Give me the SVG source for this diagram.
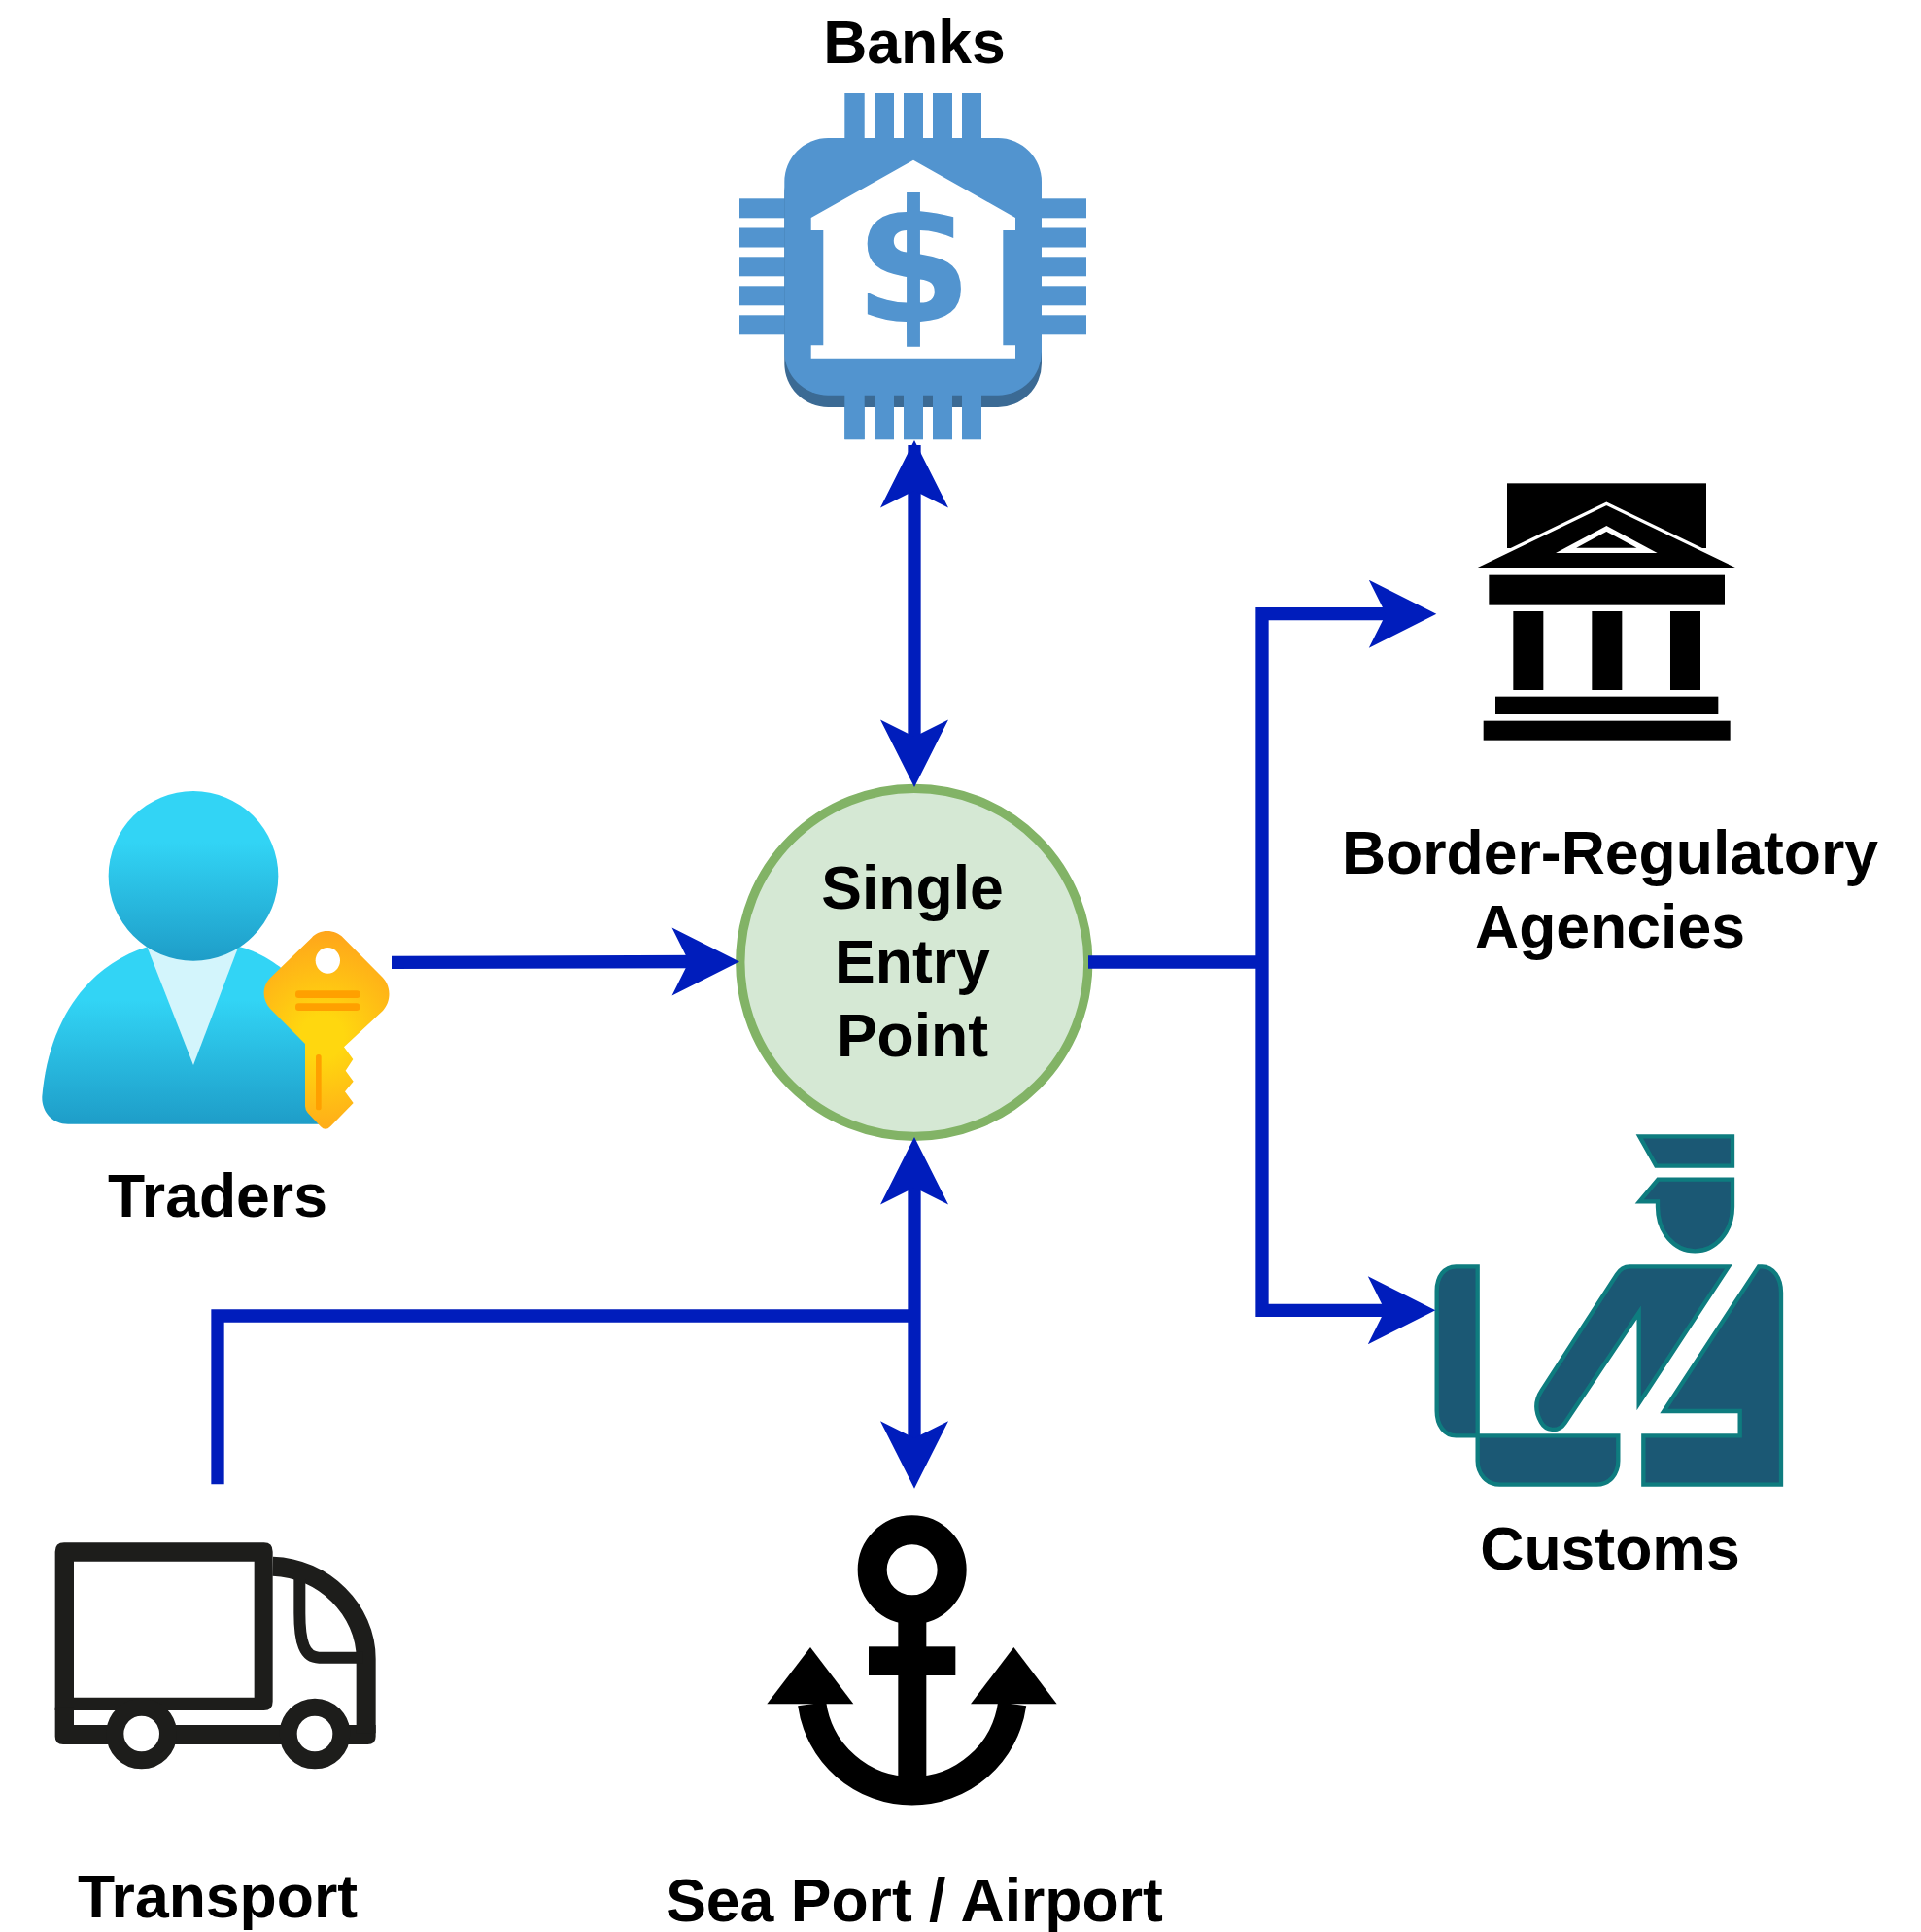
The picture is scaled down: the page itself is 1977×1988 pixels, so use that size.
<svg xmlns="http://www.w3.org/2000/svg" width="1977" height="1988" viewBox="0 0 1977 1988">
<style>
.t{font-family:"Liberation Sans",Arial,sans-serif;font-weight:700;font-size:62.500px;fill:#000;text-anchor:middle}
.c{fill:none;stroke:#001DBC;stroke-width:13.300}
.a{fill:#001DBC}
.b{fill:#5294CF}
.u{fill:#1B5874;stroke:#0E7C7F;stroke-width:13}
.k{fill:#000}
.v{fill:#1D1D1B}
.w{fill:none;stroke:#1D1D1B}
.o{fill:#FFA000}
</style>
<defs>
<linearGradient id="g1" x1="0" y1="0" x2="0" y2="1"><stop offset="0.3" stop-color="#32D4F5"/><stop offset="1" stop-color="#1E9DC8"/></linearGradient>
<radialGradient id="g2" gradientUnits="userSpaceOnUse" cx="905" cy="830" r="330"><stop offset="0.2" stop-color="#FFD70F"/><stop offset="1" stop-color="#FFA41B"/></radialGradient>
<path id="h" d="M0 0L35 69.500L0 52L-35 69.500Z"/>
</defs>
<rect width="1977" height="1988" fill="#fff"/>
<g id="banks">
<text class="t" x="941" y="65">Banks</text>
<g class="b">
<rect x="869.300" y="96" width="20.400" height="356"/><rect x="900" y="96" width="20" height="356"/><rect x="930" y="96" width="20" height="356"/><rect x="960" y="96" width="20" height="356"/><rect x="990" y="96" width="20" height="356"/>
<rect x="761" y="204.300" width="357" height="20"/><rect x="761" y="234.500" width="357" height="20"/><rect x="761" y="264.300" width="357" height="20"/><rect x="761" y="294.300" width="357" height="20"/><rect x="761" y="324.300" width="357" height="20"/>
</g>
<rect x="807.300" y="155" width="264.700" height="264" rx="45" fill="#3B6A94"/>
<g class="b">
<rect x="807.300" y="142" width="264.700" height="264.700" rx="45"/>
<rect x="869.300" y="400" width="20.400" height="52.300"/><rect x="900" y="400" width="20" height="52.300"/><rect x="930" y="400" width="20" height="52.300"/><rect x="960" y="400" width="20" height="52.300"/><rect x="990" y="400" width="20" height="52.300"/>
</g>
<path fill="#fff" d="M940 164.700L1045 224V237H1032.300V355.300H1045V368.700H834.700V355.300H847.300V237H834.700V224Z"/>
<text x="940" y="331" font-family="DejaVu Sans,sans-serif" font-weight="700" font-size="175" text-anchor="middle" fill="#5294CF">$</text>
</g>
<g id="border-regulatory">
<g transform="translate(1500 480) scale(.33333)">
<rect class="k" x="153" y="52" width="615" height="200"/>
<path class="k" stroke="#fff" stroke-width="10" stroke-miterlimit="12" d="M40 317L460 115L880 317Z"/>
<path class="k" stroke="#fff" stroke-width="16" stroke-miterlimit="12" d="M460 192L335 259H585Z"/>
<rect class="k" x="97" y="335" width="728" height="93"/>
<rect class="k" x="172" y="447" width="93" height="243"/><rect class="k" x="415" y="447" width="93" height="243"/><rect class="k" x="657" y="447" width="93" height="243"/>
<rect class="k" x="117" y="710" width="688" height="55"/><rect class="k" x="80" y="785" width="762" height="60"/>
</g>
<text class="t" x="1657" y="899">Border-Regulatory</text>
<text class="t" x="1657" y="975">Agencies</text>
</g>
<g id="customs">
<g transform="translate(1460 1140) scale(.33333)">
<path class="u" d="M682 88H969V179H733Z"/>
<path class="u" d="M739 221H969V305C969 385 915 442 853 442C790 442 738 385 738 305V289H682Z"/>
<path class="u" d="M182 490V1012H115C80 1012 56 980 56 935V565C56 520 80 490 115 490Z"/>
<path class="u" d="M182 1012H616V1090C616 1130 590 1163 550 1163H250C210 1163 182 1130 182 1090Z"/>
<path class="u" d="M957 490H652C634 490 622 498 612 514L380 872C360 902 358 935 378 970C392 995 430 1005 452 972L680 632V912Z"/>
<path class="u" d="M1050 490H1060C1095 490 1119 525 1119 570V1163H694V1012H992V936H757Z"/>
</g>
<text class="t" x="1657" y="1615">Customs</text>
</g>
<g id="single-entry-point">
<circle cx="940.800" cy="990.300" r="179" fill="#D5E8D4" stroke="#82B366" stroke-width="9.300"/>
<text class="t" x="939" y="935">Single</text>
<text class="t" x="939" y="1011">Entry</text>
<text class="t" x="939" y="1087">Point</text>
</g>
<g id="traders">
<g transform="translate(30 790) scale(.33333)">
<path fill="url(#g1)" d="M120 1100C70 1100 38 1060 40 1015C60 780 180 610 365 553H650C700 565 740 590 775 615L900 800V1100Z"/>
<path fill="#D3F5FC" d="M365 555H645L507 918Z"/>
<circle cx="507" cy="334" r="262" fill="url(#g1)"/>
<path fill="url(#g2)" d="M872 525C895 497 945 497 970 525L1092 648C1118 675 1118 722 1092 750L972 862L1000 900L977 935L1001 968L975 1000L1001 1035L930 1108C920 1118 910 1118 900 1108L860 1065Q852 1055 852 1045V852L745 745C718 715 718 675 745 648Z"/>
<ellipse cx="922" cy="595" rx="38" ry="40" fill="#fff"/>
<rect class="o" x="822" y="688" width="200" height="23" rx="10"/><rect class="o" x="822" y="727" width="199" height="23" rx="10"/><rect class="o" x="885" y="885" width="17" height="172" rx="8"/>
</g>
<text class="t" x="224" y="1252">Traders</text>
</g>
<g id="transport">
<g transform="translate(40 1560) scale(.33333)">
<path class="v" fill-rule="evenodd" d="M78 82H695Q722 82 722 110V572Q722 600 695 600H50V110Q50 82 78 82ZM108 140V560H665V140Z"/>
<path class="v" d="M50 590H108V645H1040V680Q1040 705 1015 705H75Q50 705 50 680Z"/>
<path class="w" stroke-width="60" d="M722 155C880 160 1010 290 1010 440V670"/>
<path class="w" stroke-width="36" d="M805 195V300C805 390 820 437 865 437H1000"/>
<circle cx="317" cy="672" r="82" fill="#fff" stroke="#1D1D1B" stroke-width="54"/>
<circle cx="852" cy="672" r="82" fill="#fff" stroke="#1D1D1B" stroke-width="54"/>
</g>
<text class="t" x="224" y="1973">Transport</text>
</g>
<g id="sea-port">
<g transform="translate(770 1540) scale(.33333)">
<circle cx="506" cy="226" r="123" fill="none" stroke="#000" stroke-width="90"/>
<rect class="k" x="463" y="340" width="87" height="570"/>
<rect class="k" x="372" y="463" width="268" height="89"/>
<path fill="none" stroke="#000" stroke-width="88" d="M197 640A312 312 0 0 0 815 640"/>
<path class="k" d="M192 465L325 640H58Z"/><path class="k" d="M820 465L953 640H687Z"/>
</g>
<text class="t" x="941" y="1977">Sea Port / Airport</text>
</g>
<g id="connectors">
<path class="c" d="M941 458V770"/>
<use href="#h" class="a" x="941" y="453"/>
<use href="#h" class="a" transform="translate(941 810) rotate(180)"/>
<path class="c" d="M403 990.300L725 989.500"/>
<use href="#h" class="a" transform="translate(761 989.500) rotate(90)"/>
<path class="c" d="M1120 990H1299V631.700H1440M1299 990V1348.300H1440"/>
<use href="#h" class="a" transform="translate(1478.300 631.700) rotate(90)"/>
<use href="#h" class="a" transform="translate(1477.300 1348.300) rotate(90)"/>
<path class="c" d="M941 1200V1495M941 1354H224V1527.300"/>
<use href="#h" class="a" x="941" y="1170"/>
<use href="#h" class="a" transform="translate(941 1531.700) rotate(180)"/>
</g>
</svg>
